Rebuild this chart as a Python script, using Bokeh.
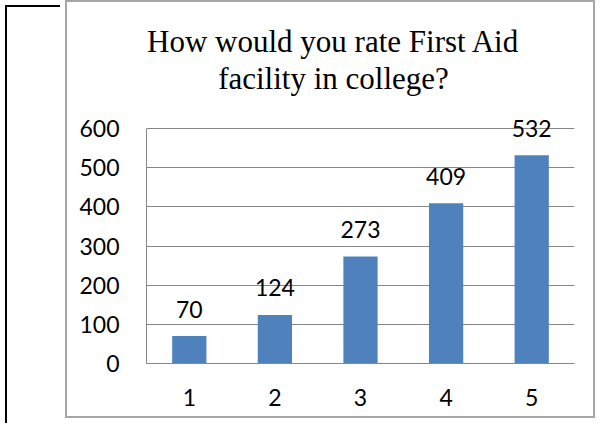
from bokeh.plotting import figure
from bokeh.models import Div, FixedTicker
from bokeh.layouts import row
from bokeh.core.properties import value
from bokeh.embed import file_html
from bokeh.resources import INLINE

# ---- data ----
categories = ["1", "2", "3", "4", "5"]
counts = [70, 124, 273, 409, 532]
y_ticks = [0, 100, 200, 300, 400, 500, 600]
title_lines = ["How would you rate First Aid", "facility in college?"]

BAR = "#4F81BD"
GRID = "#868686"
FONT = "Lato"
FS = "23px"

# layout (pixels)
W, H = 530, 418
TOP, BOTTOM = 8, 57
AXIS_PX = 235                      # pixel height of the 0..600 scale
frame_h = H - TOP - BOTTOM
y_max = y_ticks[-1]
y_end = y_max * frame_h / AXIS_PX  # frame extends above the axis to hold the title

p = figure(
    x_range=categories, y_range=(0, y_end),
    width=W, height=H,
    output_backend="svg", toolbar_location=None,
    min_border_left=79, min_border_right=23,
    min_border_top=TOP, min_border_bottom=BOTTOM,
)
p.styles = {"border": "2px solid #a6a6a6"}
p.outline_line_color = None
p.background_fill_color = "white"
p.border_fill_color = "white"

p.vbar(x=categories, top=counts, width=0.4, color=BAR, line_color=None)
p.text(x=categories, y=counts, text=[str(c) for c in counts],
       text_align="center", text_baseline="alphabetic", y_offset=-27,
       text_font=value(FONT), text_font_size=FS, text_color="black")

# axes
p.xgrid.grid_line_color = None
p.ygrid.grid_line_color = GRID
p.ygrid.grid_line_width = 1
p.yaxis.ticker = FixedTicker(ticks=y_ticks)
p.yaxis.bounds = (0, y_max)
for ax in (p.xaxis[0], p.yaxis[0]):
    ax.axis_line_color = GRID
    ax.major_tick_line_color = None
    ax.minor_tick_line_color = None
    ax.major_tick_out = 0
    ax.major_tick_in = 0
    ax.major_label_text_font = FONT
    ax.major_label_text_font_size = FS
    ax.major_label_text_color = "black"
p.yaxis.major_label_standoff = 27
p.xaxis.major_label_standoff = 25

# two-line title, centred over the chart area
mid = categories[len(categories) // 2]
for line, off in zip(title_lines, [-87, -50]):
    p.text(x=[mid], y=[y_max], text=[line], x_offset=-27, y_offset=off,
           text_align="center", text_baseline="alphabetic",
           text_font=value("Liberation Serif"), text_font_size="31px",
           text_color="black")

left = Div(width=55, height=H,
           styles={"border-left": "2px solid black", "border-top": "2px solid black",
                   "box-sizing": "border-box"})

layout = row(left, p)
open("out.html", "w").write(file_html(layout, INLINE))
